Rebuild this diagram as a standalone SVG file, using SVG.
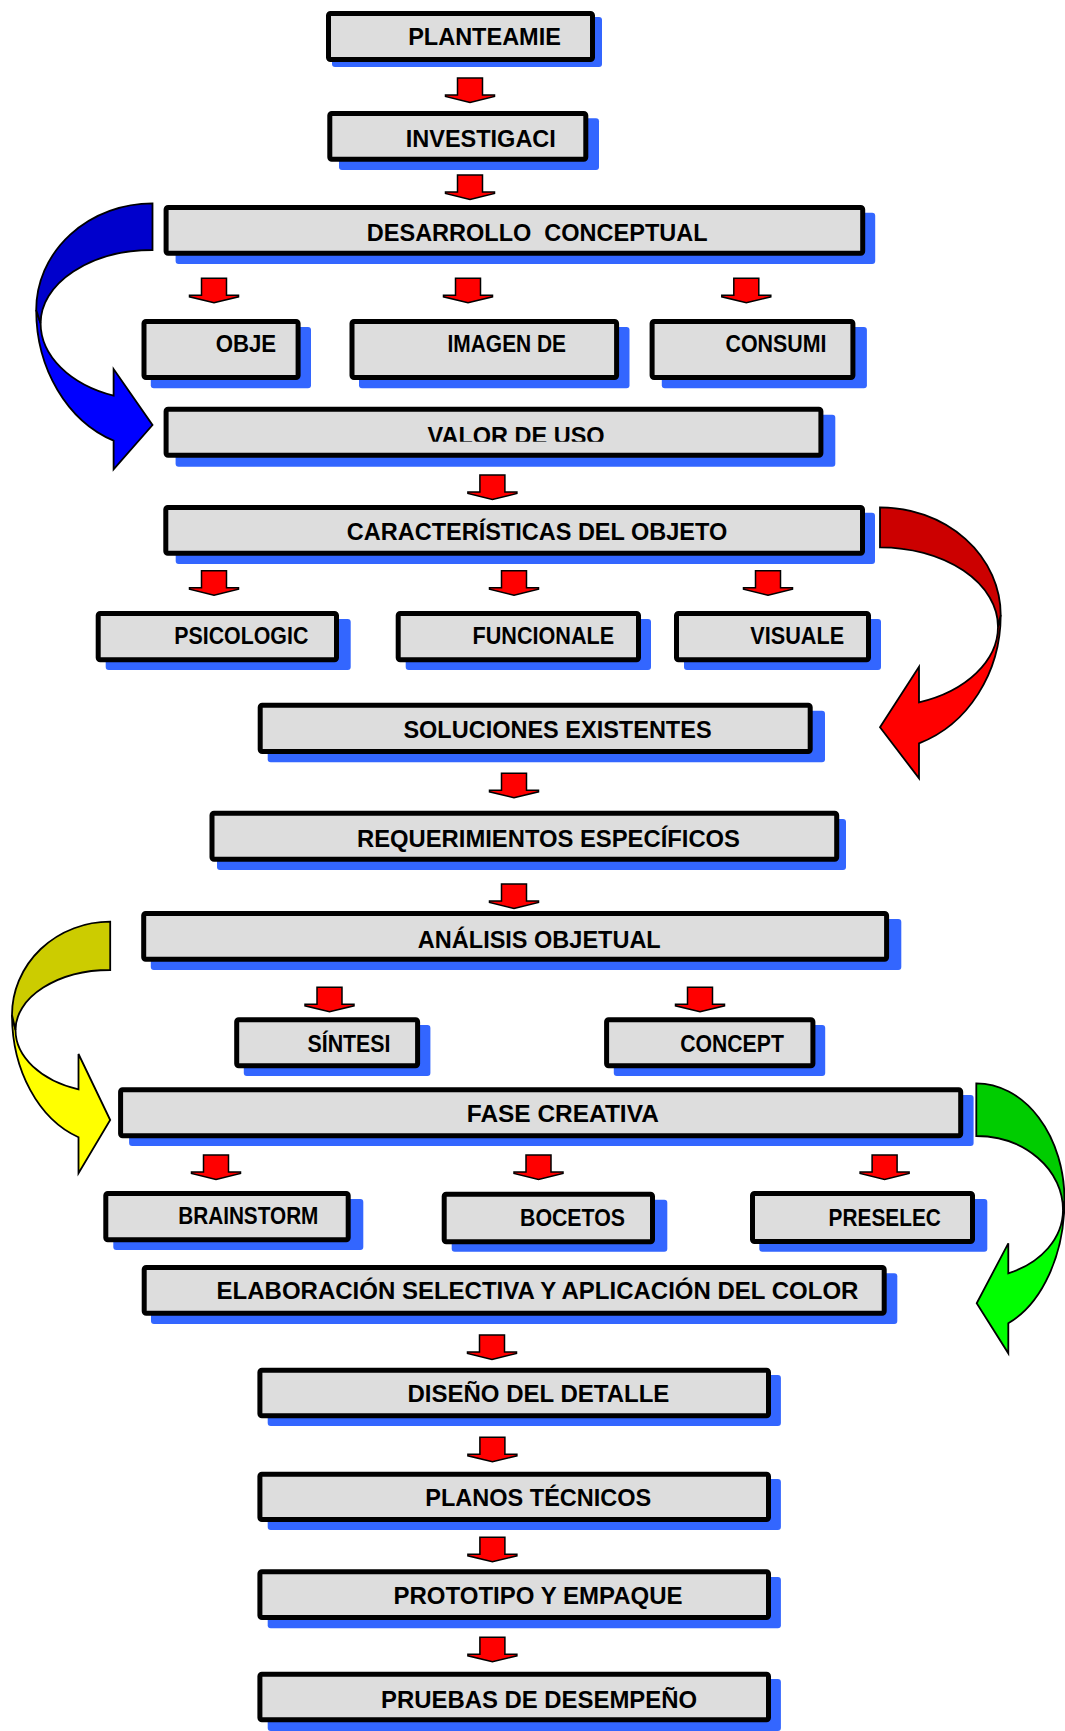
<svg xmlns="http://www.w3.org/2000/svg" xmlns:xlink="http://www.w3.org/1999/xlink" width="1065" height="1731" viewBox="0 0 1065 1731">
<style>
.sh{fill:#3366FF}
.bx{fill:#DDDDDD;stroke:#000;stroke-width:5}
.lb{font-family:"Liberation Sans",Arial,sans-serif;font-weight:bold;font-size:23.5px;fill:#000;text-anchor:middle;white-space:pre}
.lg{font-size:24px}
.ra{fill:#FF0000;stroke:#000;stroke-width:1.5;stroke-linejoin:miter}
.ca{stroke:#000;stroke-width:1.8;stroke-linejoin:miter}
</style>
<defs>
<path id="dn" class="ra" d="M -12.5,0 H 12.5 V 17 H 24.5 V 18.5 L 0,24.5 L -24.5,18.5 V 17 H -12.5 Z"/>
<clipPath id="clipCons"><rect x="640" y="300" width="186" height="90"/></clipPath>
<clipPath id="clipValor"><rect x="160" y="400" width="700" height="41.7"/></clipPath>
</defs>
<rect width="1065" height="1731" fill="#FFFFFF"/>

<g id="connectors">
  <use href="#dn" x="470" y="78"/>
  <use href="#dn" x="470" y="175"/>
  <use href="#dn" x="214" y="278.3"/>
  <use href="#dn" x="468" y="278.3"/>
  <use href="#dn" x="746.3" y="278.3"/>
  <use href="#dn" x="492.4" y="475"/>
  <use href="#dn" x="214" y="570.7"/>
  <use href="#dn" x="514" y="570.7"/>
  <use href="#dn" x="768" y="570.7"/>
  <use href="#dn" x="514" y="773.3"/>
  <use href="#dn" x="514" y="884"/>
  <use href="#dn" x="329.5" y="987.3"/>
  <use href="#dn" x="700" y="987.3"/>
  <use href="#dn" x="216" y="1155"/>
  <use href="#dn" x="538.5" y="1155"/>
  <use href="#dn" x="884.6" y="1155"/>
  <use href="#dn" x="492" y="1335"/>
  <use href="#dn" x="492.4" y="1437.3"/>
  <use href="#dn" x="492.4" y="1537.3"/>
  <use href="#dn" x="492.4" y="1637.3"/>

  <g id="curve-blue">
    <path class="ca" fill="#0000FF" d="M 36.2,310 A 116.3,138.7 0 0 0 113.6,440.7 L 113.6,469.3 L 152.5,425 L 113.6,369 L 113.6,395.7 A 111.9,77.2 0 0 1 40.6,323.3 Z"/>
    <path class="ca" fill="#0000CC" d="M 152.5,203.3 A 116.3,106.7 0 0 0 36.2,310 L 40.6,323.3 A 111.9,73.3 0 0 1 152.5,250 Z"/>
  </g>
  <g id="curve-red">
    <path class="ca" fill="#FF0000" d="M 1000.7,615 A 120.7,135.6 0 0 1 919,743.3 L 919,778.3 L 880,727.3 L 919,666.7 L 919,702.3 A 118,80.1 0 0 0 998,626.7 Z"/>
    <path class="ca" fill="#CC0000" d="M 880,507.3 A 120.7,107.7 0 0 1 1000.7,615 L 998,626.7 A 118,79.4 0 0 0 880,547.3 Z"/>
  </g>
  <g id="curve-yellow">
    <path class="ca" fill="#FFFF00" d="M 12,1015 A 98.2,129.2 0 0 0 78.5,1137.3 L 78.5,1173.3 L 110.2,1120 L 78.5,1054 L 78.5,1089.3 A 94.7,62.9 0 0 1 15.5,1030 Z"/>
    <path class="ca" fill="#CCCC00" d="M 110.2,921.7 A 98.2,93.3 0 0 0 12,1015 L 15.5,1030 A 94.7,60 0 0 1 110.2,970 Z"/>
  </g>
  <g id="curve-green">
    <path class="ca" fill="#00FF00" d="M 1064.5,1200 A 88.2,132.3 0 0 1 1008.3,1323.3 L 1008.3,1353.3 L 976.7,1303.3 L 1008.3,1243.3 L 1008.3,1273.3 A 86.7,68.1 0 0 0 1063,1210 Z"/>
    <path class="ca" fill="#00CC00" d="M 976.3,1083.3 A 88.2,116.7 0 0 1 1064.5,1200 L 1063,1210 A 86.7,73.7 0 0 0 976.3,1136 Z"/>
  </g>
</g>

<g id="n-planteamie"><rect class="sh" x="332" y="17" width="270" height="50" rx="3"/><rect class="bx" x="328.5" y="13.5" width="264" height="46" rx="2"/><text class="lb" x="484.5" y="45">PLANTEAMIE</text></g>
<g id="n-investigaci"><rect class="sh" x="339" y="118.3" width="260" height="51.7" rx="3"/><rect class="bx" x="329.8" y="113.5" width="256" height="45.7" rx="2"/><text class="lb" x="480.8" y="146.7">INVESTIGACI</text></g>
<g id="n-desarrollo"><rect class="sh" x="175.6" y="212.7" width="699.6" height="51.3" rx="3"/><rect class="bx" x="166.1" y="207.5" width="696.6" height="45.7" rx="2"/><text class="lb" x="537.2" y="240.7">DESARROLLO  CONCEPTUAL</text></g>
<g id="n-obje"><rect class="sh" x="150.8" y="327" width="160.2" height="61.3" rx="3"/><rect class="bx" x="144" y="321.5" width="154.1" height="56" rx="2"/><text class="lb" x="245.9" y="351.7" textLength="60.5" lengthAdjust="spacingAndGlyphs">OBJE</text></g>
<g id="n-imagen"><rect class="sh" x="359" y="327" width="270.5" height="61.3" rx="3"/><rect class="bx" x="352" y="321.5" width="264.6" height="56" rx="2"/><text class="lb" x="506.8" y="351.7" textLength="118.5" lengthAdjust="spacingAndGlyphs">IMAGEN DE</text></g>
<g id="n-consumi"><rect class="sh" x="661.8" y="327" width="205.1" height="61.3" rx="3"/><rect class="bx" x="652.1" y="321.5" width="200.8" height="56" rx="2"/><text class="lb" x="725.5" y="351.7" style="text-anchor:start" textLength="101" lengthAdjust="spacingAndGlyphs" clip-path="url(#clipCons)">CONSUMI</text></g>
<g id="n-valor"><rect class="sh" x="175.6" y="414.7" width="659.7" height="52" rx="3"/><rect class="bx" x="166.1" y="409.2" width="654.8" height="46" rx="2"/><text class="lb" x="516.1" y="444" clip-path="url(#clipValor)">VALOR DE USO</text></g>
<g id="n-caracteristicas"><rect class="sh" x="175.7" y="512.7" width="699.3" height="51.3" rx="3"/><rect class="bx" x="165.8" y="507.5" width="696.7" height="45.7" rx="2"/><text class="lb" x="537" y="540">CARACTERÍSTICAS DEL OBJETO</text></g>
<g id="n-psicologic"><rect class="sh" x="105.7" y="619" width="245" height="51" rx="3"/><rect class="bx" x="98.2" y="613.5" width="238.3" height="46.3" rx="2"/><text class="lb" x="241.3" y="644" textLength="134" lengthAdjust="spacingAndGlyphs">PSICOLOGIC</text></g>
<g id="n-funcionale"><rect class="sh" x="405.7" y="619" width="245.3" height="51" rx="3"/><rect class="bx" x="398.2" y="613.5" width="240.3" height="46.3" rx="2"/><text class="lb" x="543.3" y="644" textLength="141.5" lengthAdjust="spacingAndGlyphs">FUNCIONALE</text></g>
<g id="n-visuale"><rect class="sh" x="684" y="619" width="197" height="51" rx="3"/><rect class="bx" x="676.5" y="613.5" width="192" height="46.3" rx="2"/><text class="lb" x="797.2" y="644" textLength="93.8" lengthAdjust="spacingAndGlyphs">VISUALE</text></g>
<g id="n-soluciones"><rect class="sh" x="267.7" y="710.7" width="557.3" height="51.6" rx="3"/><rect class="bx" x="260.2" y="705.2" width="550" height="46.3" rx="2"/><text class="lb" x="557.5" y="737.7">SOLUCIONES EXISTENTES</text></g>
<g id="n-requerimientos"><rect class="sh" x="217" y="819" width="629" height="51" rx="3"/><rect class="bx" x="212" y="813.2" width="624.7" height="46" rx="2"/><text class="lb" x="548.5" y="846.5" textLength="383" lengthAdjust="spacingAndGlyphs">REQUERIMIENTOS ESPECÍFICOS</text></g>
<g id="n-analisis"><rect class="sh" x="150.8" y="919" width="750.5" height="51" rx="3"/><rect class="bx" x="143.7" y="913.5" width="742.9" height="45.7" rx="2"/><text class="lb" x="539.3" y="947.7">ANÁLISIS OBJETUAL</text></g>
<g id="n-sintesi"><rect class="sh" x="243.8" y="1025" width="186.6" height="51" rx="3"/><rect class="bx" x="236.7" y="1019.8" width="180.9" height="46" rx="2"/><text class="lb" x="349" y="1051.7" textLength="83" lengthAdjust="spacingAndGlyphs">SÍNTESI</text></g>
<g id="n-concept"><rect class="sh" x="613.8" y="1025" width="211.4" height="51" rx="3"/><rect class="bx" x="606.6" y="1019.8" width="206.3" height="46" rx="2"/><text class="lb" x="732" y="1051.7" textLength="103.7" lengthAdjust="spacingAndGlyphs">CONCEPT</text></g>
<g id="n-fase"><rect class="sh" x="129.1" y="1095" width="844.5" height="51" rx="3"/><rect class="bx" x="120.6" y="1089.8" width="840.1" height="46" rx="2"/><text class="lb" x="562.8" y="1121.7" textLength="192" lengthAdjust="spacingAndGlyphs">FASE CREATIVA</text></g>
<g id="n-brainstorm"><rect class="sh" x="113.3" y="1199" width="250" height="51" rx="3"/><rect class="bx" x="105.8" y="1193.5" width="242.4" height="46.3" rx="2"/><text class="lb" x="248.3" y="1224" textLength="140.2" lengthAdjust="spacingAndGlyphs">BRAINSTORM</text></g>
<g id="n-bocetos"><rect class="sh" x="451.7" y="1199.7" width="215.6" height="52" rx="3"/><rect class="bx" x="444.2" y="1194.2" width="208.3" height="47.6" rx="2"/><text class="lb" x="572.5" y="1226" textLength="105" lengthAdjust="spacingAndGlyphs">BOCETOS</text></g>
<g id="n-preselec"><rect class="sh" x="759.3" y="1199" width="228" height="52.7" rx="3"/><rect class="bx" x="752.5" y="1193.5" width="220" height="48" rx="2"/><text class="lb" x="884.7" y="1226" textLength="112.2" lengthAdjust="spacingAndGlyphs">PRESELEC</text></g>
<g id="n-elaboracion"><rect class="sh" x="151" y="1273.3" width="746.3" height="50.7" rx="3"/><rect class="bx" x="144.2" y="1267.5" width="740" height="45.7" rx="2"/><text class="lb lg" x="537.5" y="1299">ELABORACIÓN SELECTIVA Y APLICACIÓN DEL COLOR</text></g>
<g id="n-diseno"><rect class="sh" x="267.7" y="1375" width="513.2" height="51" rx="3"/><rect class="bx" x="259.9" y="1370.2" width="508.6" height="45.6" rx="2"/><text class="lb lg" x="538.4" y="1401.7">DISEÑO DEL DETALLE</text></g>
<g id="n-planos"><rect class="sh" x="267.7" y="1479" width="513.2" height="51" rx="3"/><rect class="bx" x="259.9" y="1474.2" width="508.6" height="45.3" rx="2"/><text class="lb" x="538.3" y="1505.7">PLANOS TÉCNICOS</text></g>
<g id="n-prototipo"><rect class="sh" x="267.7" y="1577" width="513.2" height="51.3" rx="3"/><rect class="bx" x="259.9" y="1571.8" width="508.6" height="45.7" rx="2"/><text class="lb lg" x="538" y="1604.3">PROTOTIPO Y EMPAQUE</text></g>
<g id="n-pruebas"><rect class="sh" x="267.7" y="1679" width="513.2" height="52" rx="3"/><rect class="bx" x="259.9" y="1674.2" width="508.6" height="45.6" rx="2"/><text class="lb lg" x="539" y="1707.7" textLength="316" lengthAdjust="spacingAndGlyphs">PRUEBAS DE DESEMPEÑO</text></g>
</svg>
